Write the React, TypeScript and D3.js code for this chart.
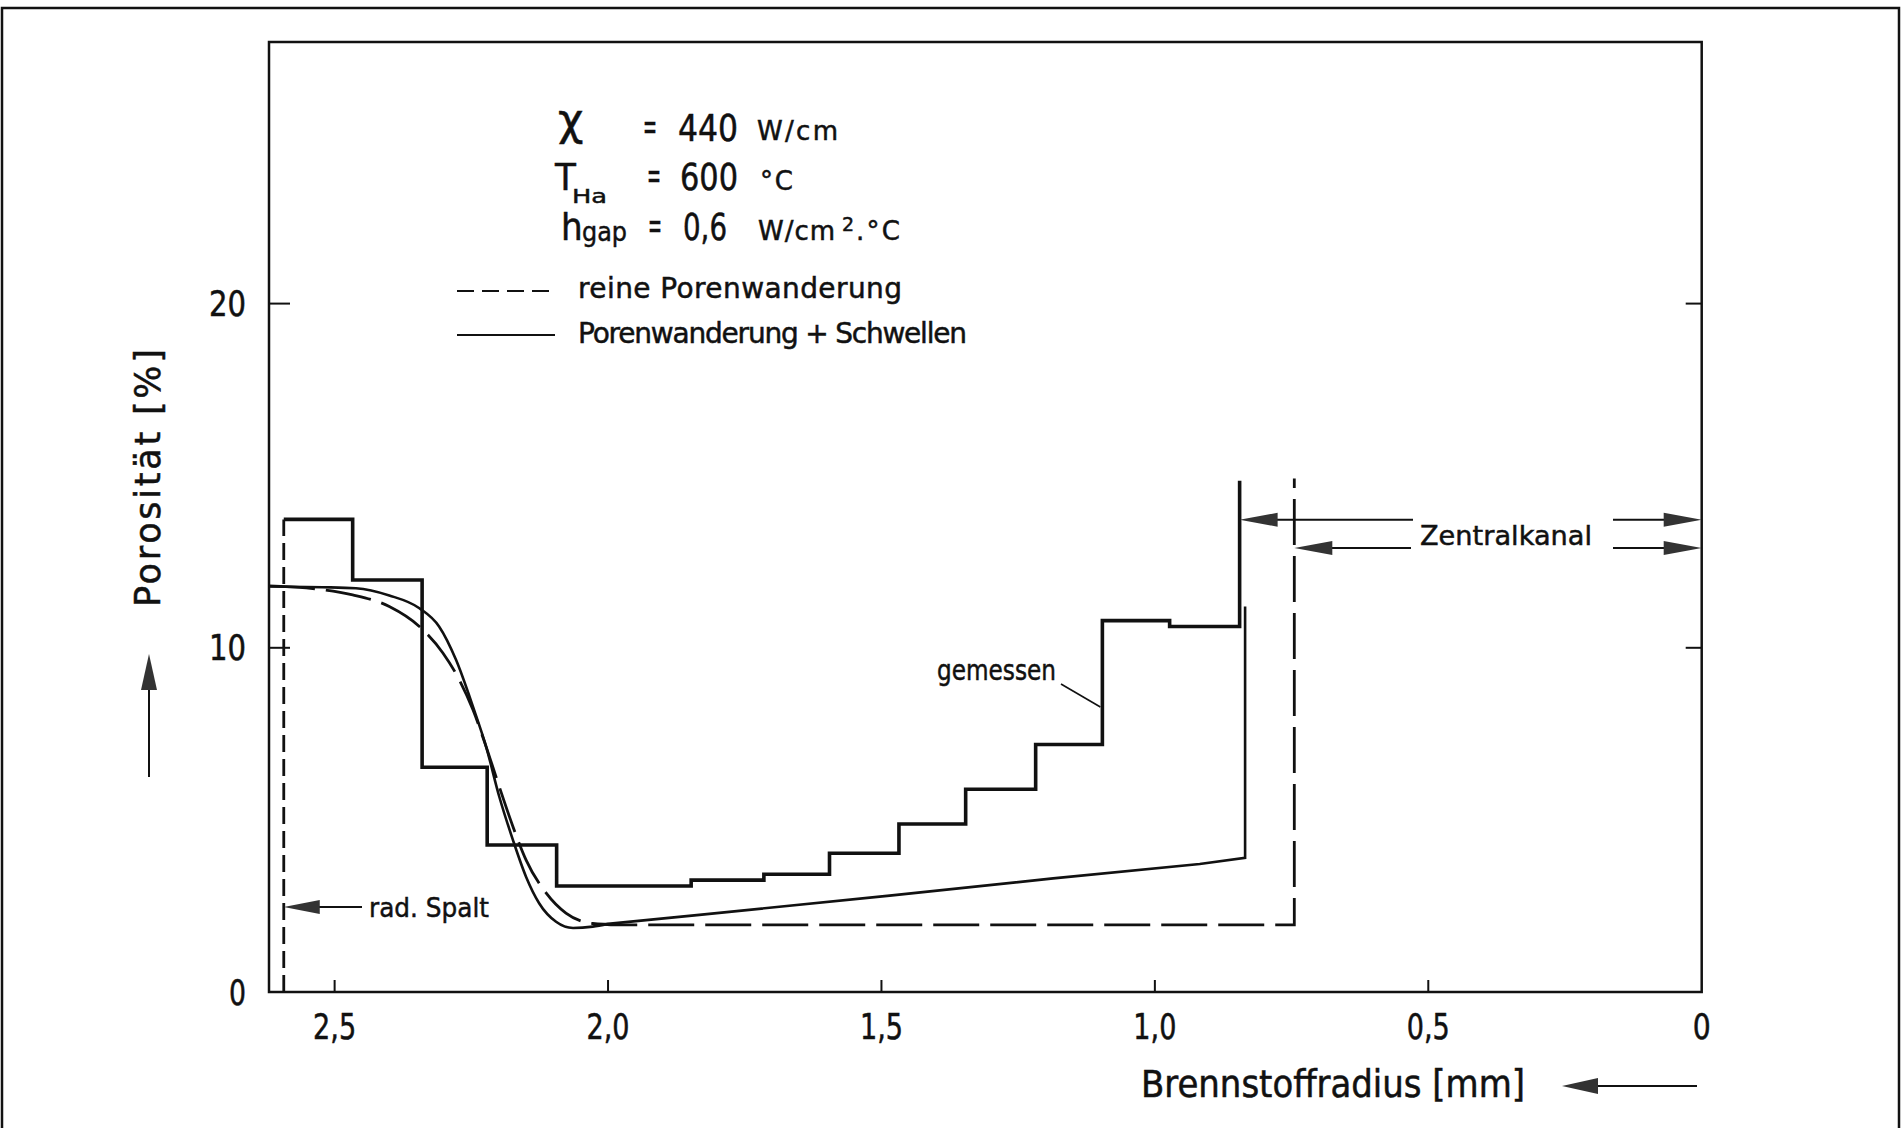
import React from 'react';
import * as d3 from 'd3';

const W = 1903;
const H = 1128;

// plot box in page pixels
const PLOT = { left: 269, right: 1701.7, top: 42, bottom: 992 };

// axes: fuel radius (mm) runs from the rim (left) to the centre (right)
const radiusDomain: [number, number] = [2.62, 0];
const porosityDomain: [number, number] = [0, 27.6];
const xTicks = [2.5, 2.0, 1.5, 1.0, 0.5, 0];
const xTickLabels = ['2,5', '2,0', '1,5', '1,0', '0,5', '0'];
const yTicks = [0, 10, 20];
const yTickLabels = ['0', '10', '20'];
const yInnerTicks = [10, 20];

// measured porosity ("gemessen"): ring boundaries (mm) and porosity per ring (%)
const measuredEdges = [2.593, 2.467, 2.34, 2.221, 2.094, 1.848, 1.715, 1.595, 1.468, 1.346, 1.218, 1.096, 0.973, 0.845];
const measuredLevels = [13.73, 11.97, 6.53, 4.27, 3.08, 3.25, 3.42, 4.03, 4.88, 5.89, 7.19, 10.79, 10.62];
const measuredInnerTop = 14.85;

// calculation: pure pore migration (dashed) – smooth drop, then straight segments
const poreMigrationDrop: [number, number][] = [
  [2.62, 11.8], [2.552, 11.74], [2.467, 11.54], [2.4, 11.2], [2.345, 10.62],
  [2.302, 9.85], [2.272, 9.07], [2.247, 8.2], [2.223, 7.13], [2.199, 5.97],
  [2.174, 4.81], [2.15, 3.84], [2.113, 2.87], [2.077, 2.29], [2.028, 1.99],
  [1.98, 1.95],
];
const poreMigrationTail: [number, number][] = [[1.98, 1.95], [0.745, 1.95], [0.745, 14.92]];

// calculation: pore migration + swelling (solid) – smooth drop, then straight segments
const swellingDrop: [number, number][] = [
  [2.62, 11.78], [2.522, 11.76], [2.461, 11.73], [2.4, 11.52], [2.345, 11.15],
  [2.309, 10.62], [2.278, 9.65], [2.247, 8.29], [2.223, 7.13], [2.199, 5.68],
  [2.174, 4.42], [2.15, 3.35], [2.126, 2.58], [2.095, 2.04], [2.064, 1.86],
  [2.028, 1.9], [2.0, 1.98],
];
const swellingTail: [number, number][] = [
  [2.0, 1.98], [1.833, 2.24], [1.485, 2.8], [1.186, 3.3], [0.918, 3.72],
  [0.835, 3.9], [0.835, 11.2],
];

// radial gap marker and central channel radii
const gapRadius = 2.593;
const gapTop = 13.73;
const gapArrowLevel = 2.47;
const channelMeasured = 0.845;
const channelCalculated = 0.745;
const channelArrowLevels = [13.72, 12.9];

const FONT_N = "'Liberation Sans Narrow','DejaVu Sans Condensed','Liberation Sans','DejaVu Sans',sans-serif";
const FONT_W = "'DejaVu Sans','Liberation Sans',sans-serif";
const INK = '#111';

const x = d3.scaleLinear().domain(radiusDomain).range([PLOT.left, PLOT.right]);
const y = d3.scaleLinear().domain(porosityDomain).range([PLOT.bottom, PLOT.top]);

const smooth = d3
  .line<[number, number]>()
  .x((d) => x(d[0]))
  .y((d) => y(d[1]))
  .curve(d3.curveMonotoneX);
const straight = d3
  .line<[number, number]>()
  .x((d) => x(d[0]))
  .y((d) => y(d[1]));
const steps = d3
  .line<[number, number]>()
  .x((d) => x(d[0]))
  .y((d) => y(d[1]))
  .curve(d3.curveStepAfter);

function head(tx: number, ty: number, dir: 'left' | 'right' | 'up', len = 36, half = 7): string {
  if (dir === 'left') return `${tx},${ty} ${tx + len},${ty - half} ${tx + len},${ty + half}`;
  if (dir === 'right') return `${tx},${ty} ${tx - len},${ty - half} ${tx - len},${ty + half}`;
  return `${tx},${ty} ${tx - half},${ty + len} ${tx + half},${ty + len}`;
}

function joined(drop: [number, number][], tail: [number, number][]): string {
  const a = smooth(drop) ?? '';
  const b = (straight(tail) ?? '').replace(/^M/, 'L');
  return a + b;
}

const textInk = { fill: INK, stroke: INK, strokeWidth: 0.5 };

export default function App() {
  const stepPts: [number, number][] = measuredLevels.map((lv, i) => [measuredEdges[i], lv]);
  const innerEdge = measuredEdges[measuredEdges.length - 1];
  stepPts.push([innerEdge, measuredLevels[measuredLevels.length - 1]]);
  stepPts.push([innerEdge, measuredInnerTop]);

  const xm = x(channelMeasured);
  const xc = x(channelCalculated);
  const [yUp, yLo] = channelArrowLevels.map((v) => y(v));
  const yGap = y(gapArrowLevel);

  return (
    <svg
      width={W}
      height={H}
      viewBox={`0 0 ${W} ${H}`}
      style={{ position: 'absolute', left: 0, top: 0, background: '#fff' }}
    >
      <rect x={0} y={0} width={W} height={H} fill="#fff" />
      {/* page frame */}
      <path d={`M2,${H + 10}V8H1899V${H + 10}`} fill="none" stroke={INK} strokeWidth={2.5} />

      {/* plot box */}
      <rect
        x={PLOT.left}
        y={PLOT.top}
        width={PLOT.right - PLOT.left}
        height={PLOT.bottom - PLOT.top}
        fill="none"
        stroke={INK}
        strokeWidth={2.5}
      />

      {/* x ticks */}
      {xTicks.map((t, i) => (
        <g key={`xt${i}`}>
          {t > 0 && <line x1={x(t)} x2={x(t)} y1={PLOT.bottom} y2={PLOT.bottom - 12} stroke={INK} strokeWidth={2} />}
          <text
            x={x(t)}
            y={1039}
            textAnchor="middle"
            fontFamily={FONT_N}
            fontSize={35}
            {...textInk}
            textLength={xTickLabels[i].length > 1 ? 43 : 18}
            lengthAdjust="spacingAndGlyphs"
          >
            {xTickLabels[i]}
          </text>
        </g>
      ))}

      {/* y ticks */}
      {yTicks.map((t, i) => (
        <text
          key={`yt${i}`}
          x={246}
          y={y(t)}
          dy="0.36em"
          textAnchor="end"
          fontFamily={FONT_N}
          fontSize={35}
          {...textInk}
          textLength={yTickLabels[i].length > 1 ? 37 : 17}
          lengthAdjust="spacingAndGlyphs"
        >
          {yTickLabels[i]}
        </text>
      ))}
      {yInnerTicks.map((t) => (
        <g key={`yi${t}`}>
          <line x1={PLOT.left} x2={PLOT.left + 21} y1={y(t)} y2={y(t)} stroke={INK} strokeWidth={2} />
          <line x1={PLOT.right} x2={PLOT.right - 16} y1={y(t)} y2={y(t)} stroke={INK} strokeWidth={2} />
        </g>
      ))}

      {/* axis titles */}
      <text
        transform="translate(160,478) rotate(-90)"
        textAnchor="middle"
        fontFamily={FONT_W}
        fontSize={35}
        {...textInk}
        textLength={258}
        lengthAdjust="spacing"
      >
        Porosität [%]
      </text>
      <line x1={149} x2={149} y1={777} y2={680} stroke={INK} strokeWidth={2} />
      <polygon points={head(149, 654, 'up', 36, 8)} fill="#333" />

      <text
        x={1141}
        y={1097}
        fontFamily={FONT_N}
        fontSize={37}
        {...textInk}
        textLength={384}
        lengthAdjust="spacingAndGlyphs"
      >
        Brennstoffradius [mm]
      </text>
      <line x1={1590} x2={1697} y1={1086} y2={1086} stroke={INK} strokeWidth={2} />
      <polygon points={head(1562, 1086, 'left', 36, 8)} fill="#333" />

      {/* radial gap (dashed vertical) */}
      <line
        x1={x(gapRadius)}
        x2={x(gapRadius)}
        y1={y(0)}
        y2={y(gapTop)}
        stroke={INK}
        strokeWidth={2.8}
        strokeDasharray="17 7"
      />

      {/* calculated: pure pore migration */}
      <path
        d={joined(poreMigrationDrop, poreMigrationTail)}
        fill="none"
        stroke={INK}
        strokeWidth={2.8}
        strokeDasharray="46 11"
      />

      {/* calculated: pore migration + swelling */}
      <path d={joined(swellingDrop, swellingTail)} fill="none" stroke={INK} strokeWidth={2.6} />

      {/* measured histogram */}
      <path d={steps(stepPts) ?? ''} fill="none" stroke={INK} strokeWidth={3.6} strokeLinejoin="miter" />

      {/* gemessen label with leader */}
      <text x={937} y={680} fontFamily={FONT_W} fontSize={28} {...textInk} textLength={119} lengthAdjust="spacingAndGlyphs">
        gemessen
      </text>
      <line x1={1061} y1={684} x2={x(1.096) - 2} y2={707} stroke={INK} strokeWidth={1.6} />

      {/* rad. Spalt */}
      <line x1={x(gapRadius) + 30} x2={362} y1={yGap} y2={yGap} stroke={INK} strokeWidth={2} />
      <polygon points={head(x(gapRadius), yGap, 'left', 36, 7)} fill="#333" />
      <text x={369} y={917} fontFamily={FONT_W} fontSize={27} {...textInk} textLength={120} lengthAdjust="spacingAndGlyphs">
        rad. Spalt
      </text>

      {/* Zentralkanal */}
      <line x1={xm + 30} x2={1413} y1={yUp} y2={yUp} stroke={INK} strokeWidth={2} />
      <polygon points={head(xm, yUp, 'left', 38, 7)} fill="#333" />
      <line x1={1613} x2={PLOT.right - 30} y1={yUp} y2={yUp} stroke={INK} strokeWidth={2} />
      <polygon points={head(PLOT.right, yUp, 'right', 38, 7)} fill="#333" />
      <line x1={xc + 30} x2={1411} y1={yLo} y2={yLo} stroke={INK} strokeWidth={2} />
      <polygon points={head(xc, yLo, 'left', 38, 7)} fill="#333" />
      <line x1={1613} x2={PLOT.right - 30} y1={yLo} y2={yLo} stroke={INK} strokeWidth={2} />
      <polygon points={head(PLOT.right, yLo, 'right', 38, 7)} fill="#333" />
      <text x={1420} y={545} fontFamily={FONT_W} fontSize={27} {...textInk} textLength={172} lengthAdjust="spacingAndGlyphs">
        Zentralkanal
      </text>

      {/* operating parameters */}
      <g fontFamily={FONT_N} {...textInk}>
        <text x={558} y={135} fontSize={44} fontFamily={FONT_W}>χ</text>
        <text x={643} y={139} fontSize={37} textLength={14} lengthAdjust="spacingAndGlyphs">=</text>
        <text x={678} y={141} fontSize={38} textLength={60} lengthAdjust="spacingAndGlyphs">440</text>
        <text x={757} y={140} fontSize={26} fontFamily={FONT_W} textLength={81} lengthAdjust="spacing">W/cm</text>

        <text x={555} y={190} fontSize={38}>T</text>
        <text x={572} y={203} fontSize={20} fontFamily={FONT_W} textLength={35} lengthAdjust="spacingAndGlyphs">Ha</text>
        <text x={647} y={188} fontSize={37} textLength={14} lengthAdjust="spacingAndGlyphs">=</text>
        <text x={680} y={190} fontSize={38} textLength={58} lengthAdjust="spacingAndGlyphs">600</text>
        <text x={760} y={190} fontSize={26} fontFamily={FONT_W} textLength={33} lengthAdjust="spacing">°C</text>

        <text x={561} y={240} fontSize={38}>h</text>
        <text x={582} y={241} fontSize={26} fontFamily={FONT_W} textLength={45} lengthAdjust="spacingAndGlyphs">gap</text>
        <text x={648} y={238} fontSize={37} textLength={14} lengthAdjust="spacingAndGlyphs">=</text>
        <text x={683} y={240} fontSize={38} textLength={44} lengthAdjust="spacingAndGlyphs">0,6</text>
        <text x={758} y={240} fontSize={26} fontFamily={FONT_W} textLength={77} lengthAdjust="spacing">W/cm</text>
        <text x={842} y={231} fontSize={19} fontFamily={FONT_W}>2</text>
        <text x={856} y={240} fontSize={26} fontFamily={FONT_W} textLength={44} lengthAdjust="spacing">.°C</text>
      </g>

      {/* legend */}
      <line x1={457} x2={555} y1={291} y2={291} stroke={INK} strokeWidth={2.2} strokeDasharray="17 8" />
      <text x={578} y={298} fontFamily={FONT_W} fontSize={28} {...textInk} textLength={324} lengthAdjust="spacing">
        reine Porenwanderung
      </text>
      <line x1={457} x2={555} y1={335} y2={335} stroke={INK} strokeWidth={2.2} />
      <text x={578} y={343} fontFamily={FONT_W} fontSize={28} {...textInk} textLength={389} lengthAdjust="spacing">
        Porenwanderung + Schwellen
      </text>
    </svg>
  );
}
